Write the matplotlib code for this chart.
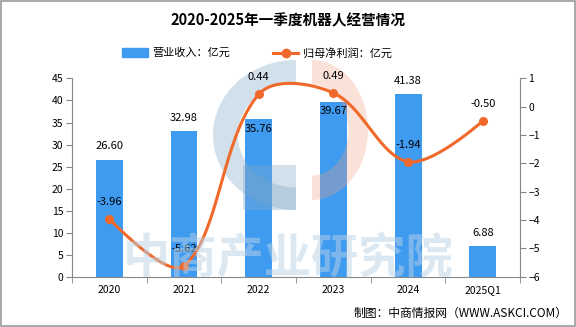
import numpy as np
import matplotlib.pyplot as plt
from matplotlib.patches import Rectangle, Wedge
from matplotlib.lines import Line2D
from matplotlib.transforms import Affine2D

plt.rcParams['font.family'] = ['Noto Sans CJK SC', 'DejaVu Sans']

years = ['2020', '2021', '2022', '2023', '2024', '2025Q1']
revenue = [26.60, 32.98, 35.76, 39.67, 41.38, 6.88]
profit = [-3.96, -5.62, 0.44, 0.49, -1.94, -0.50]
# bar labels that sit inside the bar top because the line label is there
label_inside = [False, False, True, True, False, False]

bar_color = '#3F9BF0'
line_color = '#F0692A'
axis_gray = '#888888'


def smooth_path(pts, smooth=0.35, n=40):
    # bezier smoothing like echarts, done in pixel space
    cps_in, cps_out = [], []
    for i in range(len(pts)):
        if i == 0 or i == len(pts) - 1:
            cps_in.append(pts[i])
            cps_out.append(pts[i])
            continue
        v = pts[i + 1] - pts[i - 1]
        d0 = np.hypot(*(pts[i] - pts[i - 1]))
        d1 = np.hypot(*(pts[i + 1] - pts[i]))
        r = d1 / (d0 + d1)
        cps_in.append(pts[i] - v * smooth * (1 - r))
        cps_out.append(pts[i] + v * smooth * r)
    t = np.linspace(0, 1, n)[:, None]
    out = []
    for i in range(len(pts) - 1):
        p0, p1, p2, p3 = pts[i], cps_out[i], cps_in[i + 1], pts[i + 1]
        out.append((1 - t) ** 3 * p0 + 3 * (1 - t) ** 2 * t * p1
                   + 3 * (1 - t) * t ** 2 * p2 + t ** 3 * p3)
    return np.vstack(out)


fig = plt.figure(figsize=(5.76, 3.27), dpi=100)
fig.patches.append(Rectangle((0.001, 0.002), 0.997, 0.995, transform=fig.transFigure,
                             fill=False, edgecolor='#999999', linewidth=1.2))

ax = fig.add_axes([0.125, 0.154, 0.778, 0.606])
ax2 = ax.twinx()

x = np.arange(len(years))

ax.bar(x, revenue, width=0.36, color=bar_color, zorder=2)
ax.set_xlim(-0.5, len(years) - 0.5)
ax.set_ylim(0, 45)
ax.set_yticks(np.arange(0, 46, 5))
ax.set_xticks(x)
ax.set_xticklabels(years)
ax.set_xticks(np.arange(-0.5, len(years), 1), minor=True)
ax.tick_params(axis='x', which='major', length=0, labelsize=7.5, pad=6)
ax.tick_params(axis='x', which='minor', length=4, color=axis_gray)
ax.tick_params(axis='y', labelsize=7.5, length=4, color=axis_gray, pad=2)

ax.spines['top'].set_visible(False)
ax.spines['right'].set_visible(False)
ax.spines['left'].set_color(axis_gray)
ax.spines['bottom'].set_color(axis_gray)
ax2.spines['top'].set_visible(False)
ax2.spines['left'].set_visible(False)
ax2.spines['bottom'].set_visible(False)
ax2.spines['right'].set_color(axis_gray)

# watermark logo + text, in pixel coords from top-left
px = Affine2D().scale(1, -1).translate(0, 327) + fig.dpi_scale_trans.inverted() + fig.dpi_scale_trans
logo_blue = dict(color='#7fa8c8', alpha=0.35, linewidth=0, zorder=2.5, clip_on=False)
logo_peach = dict(color='#f0a080', alpha=0.3, linewidth=0, zorder=2.5, clip_on=False)
ax.add_patch(Wedge((0, 0), 1, 90, 270, width=0.3,
                   transform=Affine2D().scale(83, 75).translate(296, 135) + px, **logo_blue))
ax.add_patch(Rectangle((243, 165), 53, 45, transform=px, **logo_blue))
ax.add_patch(Wedge((0, 0), 1, -90, 90, width=0.35,
                   transform=Affine2D().scale(56, 70).translate(312, 130) + px, **logo_peach))
fig.text(0.50, 0.21, '中商产业研究院', fontsize=34, color='#b9d2e6', alpha=0.5,
         ha='center', va='center', zorder=3, fontweight='bold')

for i, v in enumerate(revenue):
    if label_inside[i]:
        ax.text(i, v - 1.0, f'{v:.2f}', ha='center', va='top', fontsize=8, zorder=5)
    else:
        ax.text(i, v + 2.0, f'{v:.2f}', ha='center', va='bottom', fontsize=8, zorder=5)

ax2.set_ylim(-6, 1)
ax2.set_yticks(np.arange(-6, 2, 1))
ax2.tick_params(axis='y', labelsize=7.5, length=4, color=axis_gray, pad=2)

pts = ax2.transData.transform(np.column_stack([x, profit]))
curve = ax2.transData.inverted().transform(smooth_path(pts))
ax2.plot(curve[:, 0], curve[:, 1], color=line_color, linewidth=2.2, zorder=3)
ax2.plot(x, profit, 'o', color=line_color, markersize=5.5, zorder=4)
for i, v in enumerate(profit):
    ax2.text(i, v + 0.42, f'{v:.2f}', ha='center', va='bottom', fontsize=8, zorder=5)

fig.text(0.5, 0.937, '2020-2025年一季度机器人经营情况', ha='center', va='center',
         fontsize=10.5, fontweight='bold')

# legend
fig.patches.append(Rectangle((0.212, 0.825), 0.045, 0.027, transform=fig.transFigure,
                             color=bar_color))
fig.text(0.265, 0.838, '营业收入：亿元', fontsize=8, va='center')
fig.lines.append(Line2D([0.474, 0.518], [0.838, 0.838], transform=fig.transFigure,
                        color=line_color, linewidth=2.2))
fig.lines.append(Line2D([0.496], [0.838], transform=fig.transFigure,
                        color=line_color, marker='o', markersize=6))
fig.text(0.526, 0.838, '归母净利润：亿元', fontsize=8, va='center')

fig.text(0.985, 0.042, '制图：中商情报网（WWW.ASKCI.COM）', ha='right', va='center',
         fontsize=8.5)

fig.savefig('out.png', dpi=100)
